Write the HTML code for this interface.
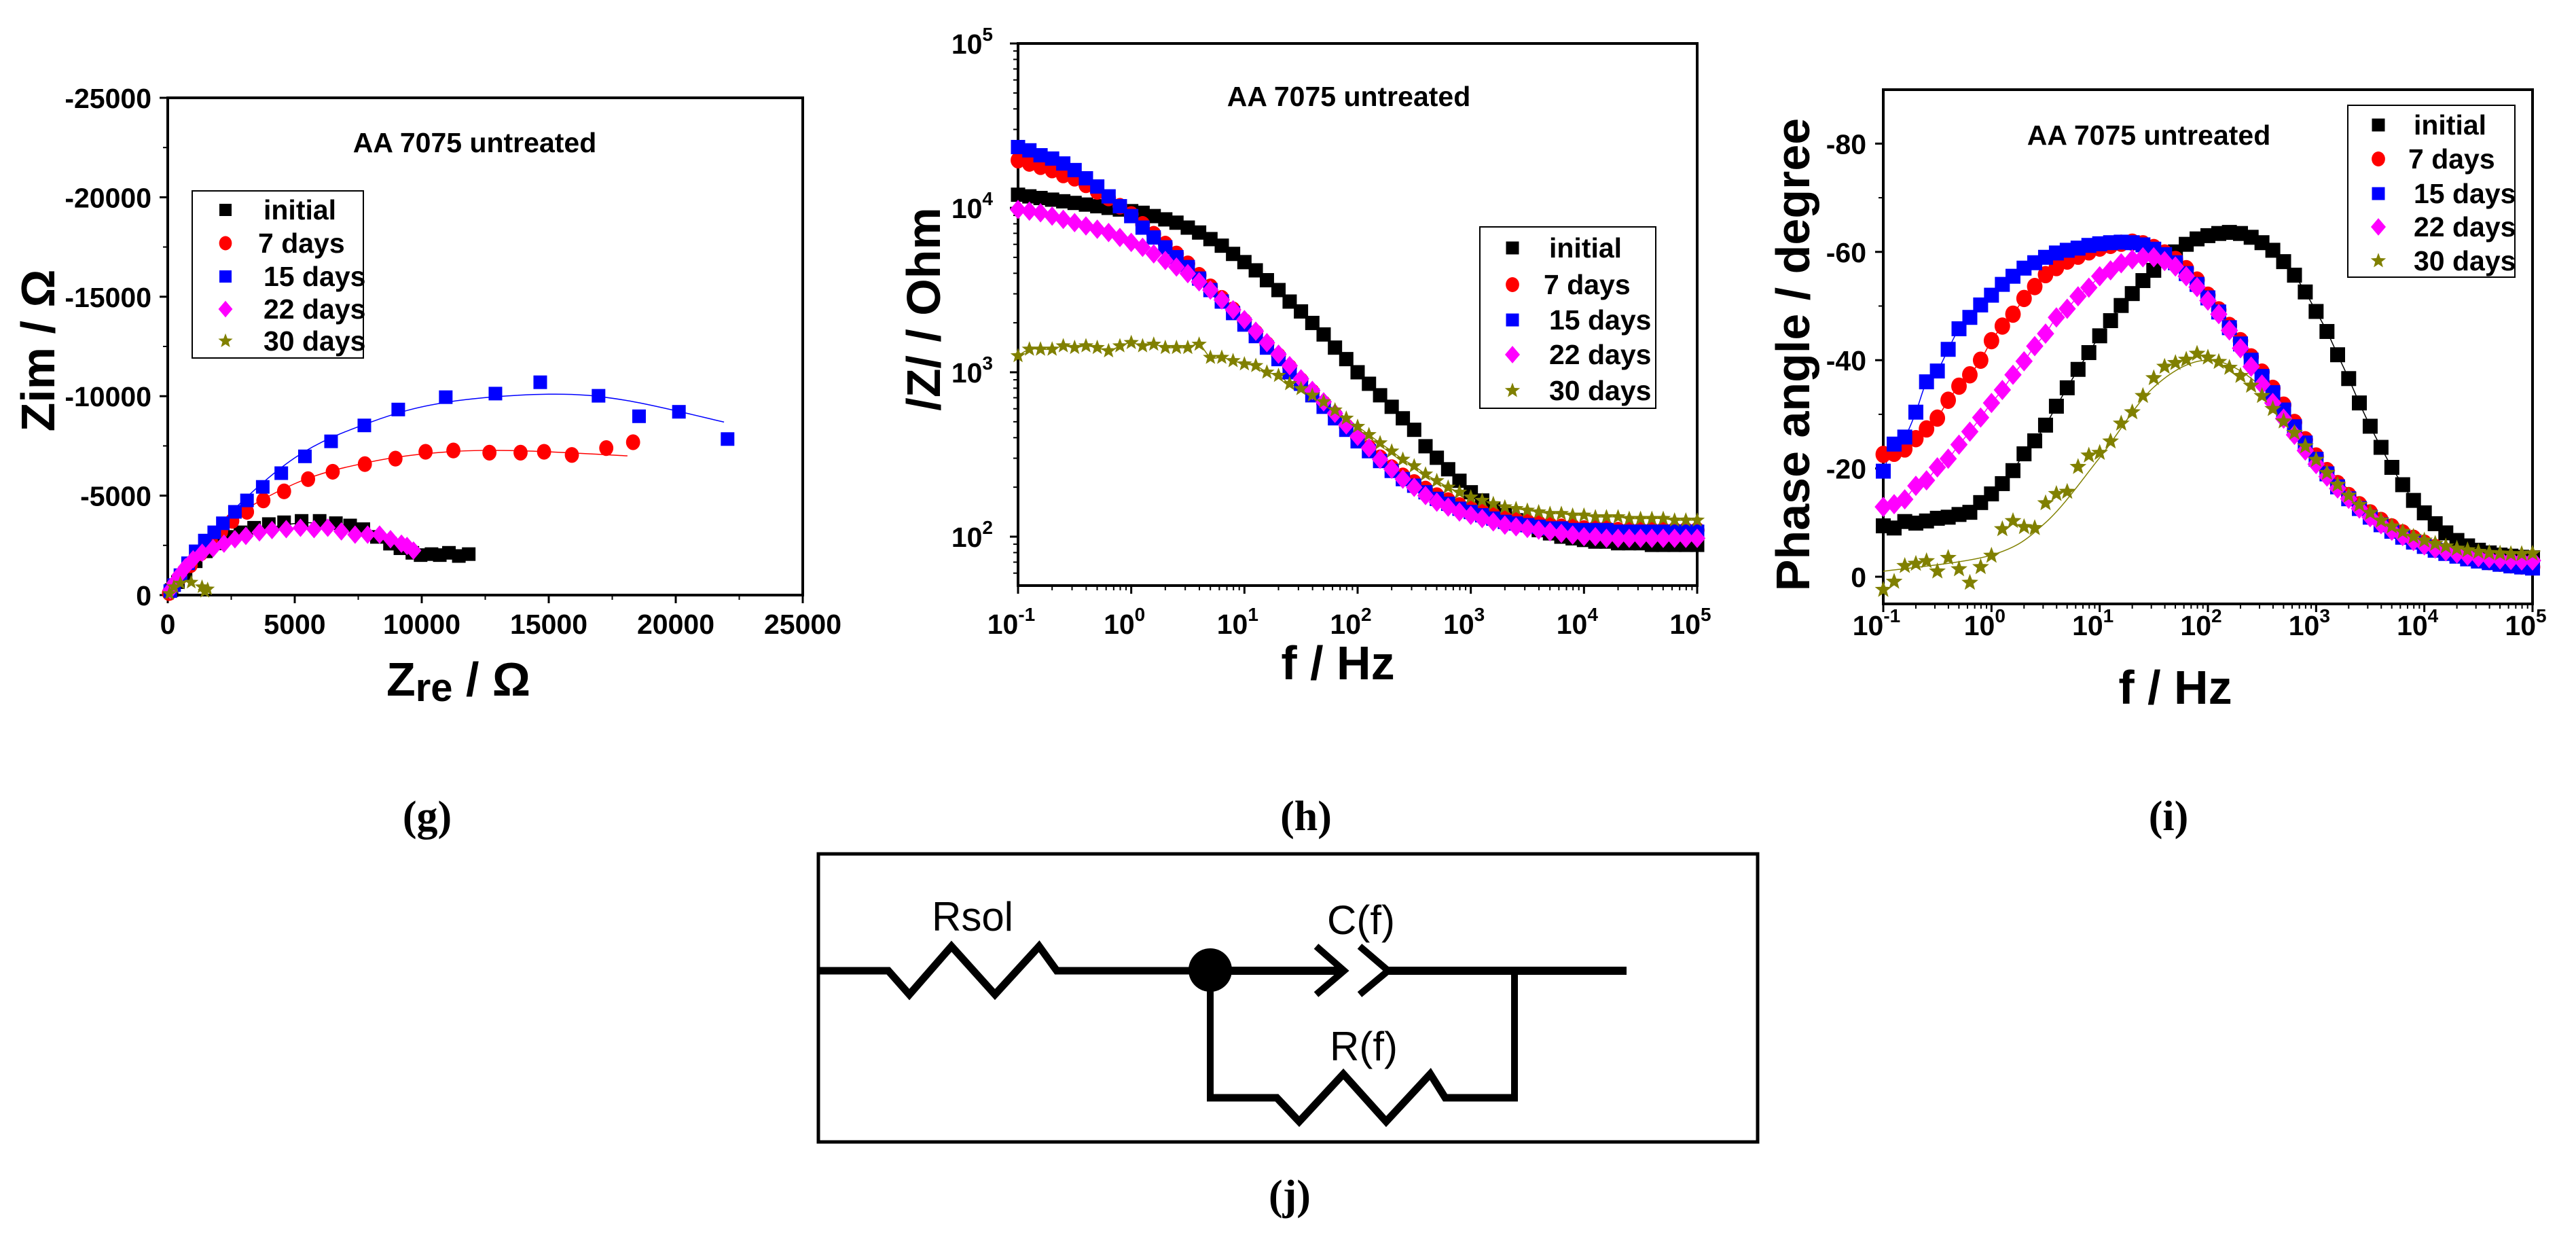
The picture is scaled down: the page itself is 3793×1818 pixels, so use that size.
<!DOCTYPE html>
<html><head><meta charset="utf-8"><style>
html,body{margin:0;padding:0;background:#fff}
svg{display:block}
text{font-family:"Liberation Sans",Arial,sans-serif}
.tk{font-weight:bold;font-size:41px}
.ttl{font-weight:bold;font-size:41px}
.lg{font-weight:bold;font-size:41px}
.ax{font-weight:bold;font-size:70px}
.cap{font-family:"Liberation Serif",serif;font-size:62px;font-weight:bold}
.cl{font-size:60px}
</style></head><body>
<svg id="fig" width="3793" height="1818" viewBox="0 0 3793 1818" xmlns="http://www.w3.org/2000/svg">
<rect width="3793" height="1818" fill="#fff"/>
<g id="pg"></g>
<g id="ph"></g>
<g id="pi"></g>

<text class="cap" x="629" y="1222" text-anchor="middle">(g)</text>
<text class="cap" x="1923" y="1222" text-anchor="middle">(h)</text>
<text class="cap" x="3193" y="1222" text-anchor="middle">(i)</text>
<text class="cap" x="1899" y="1780" text-anchor="middle">(j)</text>

<g>
<rect x="1205" y="1257" width="1383" height="424" fill="none" stroke="#000" stroke-width="5"/>
<polyline points="1205,1429 1308,1429 1339,1464 1401,1393 1465,1464 1530,1393 1556,1429 1782,1429" fill="none" stroke="#000" stroke-width="11" stroke-linejoin="miter"/>
<circle cx="1782" cy="1428" r="32" fill="#000"/>
<line x1="1782" y1="1429" x2="1975" y2="1429" stroke="#000" stroke-width="12"/>
<polyline points="1938,1393 1979,1429 1938,1464" fill="none" stroke="#000" stroke-width="10"/>
<polyline points="2002,1393 2044,1429 2002,1464" fill="none" stroke="#000" stroke-width="10"/>
<line x1="2040" y1="1429" x2="2395" y2="1429" stroke="#000" stroke-width="12"/>
<line x1="1782" y1="1429" x2="1782" y2="1620" stroke="#000" stroke-width="10"/>
<line x1="2230" y1="1429" x2="2230" y2="1620" stroke="#000" stroke-width="10"/>
<polyline points="1777,1616 1880,1616 1913,1651 1978,1581 2041,1651 2106,1581 2128,1616 2235,1616" fill="none" stroke="#000" stroke-width="11"/>
<text class="cl" x="1432" y="1370" text-anchor="middle">Rsol</text>
<text class="cl" x="2004" y="1375" text-anchor="middle">C(f)</text>
<text class="cl" x="2008" y="1561" text-anchor="middle">R(f)</text>
</g>
</svg>
<script>
const seriesNames = ["initial", " 7 days", "15 days", "22 days", "30 days"];
const seriesColors = ["#000000", "#ff0000", "#0000ff", "#ff00ff", "#808000"];
const seriesShapes = ["square", "circle", "square", "diamond", "star"];

// Nyquist data (Zre, -Zim) in Ohm
const nyqInitialRe = [150,400,700,1100,1500,1900,2320,2860,3400,3980,4580,5270,5980,6620,7180,7700,8235,8750,9160,9630,9955,10385,10710,11070,11460,11850];
const nyqInitialIm = [250,650,1100,1700,2200,2600,2925,3155,3385,3570,3660,3730,3730,3615,3500,3315,2925,2585,2355,2125,2010,2060,2010,2125,1965,2060];
const nyq7Re = [50,200,500,900,1300,1700,2100,2540,3120,3765,4580,5525,6495,7760,8965,10150,11245,12665,13890,14815,15910,17265,18320];
const nyq7Im = [100,400,900,1500,2100,2700,3200,3730,4185,4760,5215,5830,6200,6585,6860,7205,7270,7160,7160,7205,7045,7390,7685];
const nyq15Re = [100,250,500,800,1100,1460,1830,2170,2645,3120,3740,4470,5400,6430,7740,9075,10945,12900,14665,16960,18555,20125,22040];
const nyq15Im = [200,500,1000,1600,2200,2740,3155,3610,4185,4760,5440,6130,6975,7730,8530,9330,9950,10130,10700,10020,8990,9215,7845];
const nyq22Re = [100,250,450,700,1000,1355,1785,2215,2645,3075,3610,4105,4665,5225,5760,6300,6835,7375,7870,8340,8770,9200,9420,9675];
const nyq22Im = [250,600,1000,1400,1800,2125,2355,2585,2810,2975,3155,3270,3315,3385,3315,3385,3200,3040,3040,3040,2810,2585,2470,2240];
const nyq30Re = [65,240,495,925,1350,1460,1570];
const nyq30Im = [70,410,595,640,410,180,300];
const fit15Re = [0,2000,5000,8000,11000,15000,18000,21900];
const fit15Im = [0,3500,6900,8700,9700,10100,9800,8700];
const fit7Re = [0,2000,5000,8000,11000,14000,18100];
const fit7Im = [0,3300,5600,6700,7200,7250,7000];
const fitInitRe = [0,2000,4500,6000,8000,9500,10500,12000];
const fitInitIm = [0,2700,3500,3600,3050,2200,2000,1900];

// Bode: frequencies (Hz)
const freq = [0.1,0.126,0.158,0.2,0.251,0.316,0.398,0.501,0.631,0.794,1,1.26,1.58,2,2.51,3.16,3.98,5.01,6.31,7.94,10,12.6,15.8,20,25.1,31.6,39.8,50.1,63.1,79.4,100,126,158,200,251,316,398,501,631,794,1000,1260,1580,2000,2510,3160,3980,5010,6310,7940,10000,12600,15800,20000,25100,31600,39800,50100,63100,79400,100000];
// log10(|Z| / Ohm)
const logZInitial = [4.08,4.07,4.06,4.05,4.04,4.03,4.02,4.01,4.00,3.99,3.98,3.97,3.95,3.93,3.91,3.88,3.85,3.81,3.77,3.72,3.67,3.62,3.56,3.50,3.43,3.37,3.30,3.23,3.15,3.08,3.00,2.93,2.86,2.79,2.72,2.65,2.55,2.48,2.41,2.34,2.27,2.22,2.17,2.13,2.10,2.07,2.04,2.02,2.00,1.99,1.98,1.97,1.97,1.96,1.96,1.96,1.95,1.95,1.95,1.95,1.95];
const logZ7 = [4.29,4.27,4.25,4.23,4.20,4.18,4.14,4.10,4.06,4.01,3.96,3.90,3.84,3.78,3.72,3.66,3.59,3.52,3.45,3.38,3.31,3.24,3.17,3.10,3.03,2.95,2.88,2.81,2.74,2.67,2.60,2.54,2.48,2.42,2.37,2.33,2.29,2.25,2.22,2.19,2.17,2.15,2.13,2.11,2.10,2.09,2.08,2.07,2.06,2.06,2.05,2.05,2.05,2.04,2.04,2.04,2.04,2.04,2.04,2.04,2.04];
const logZ15 = [4.37,4.35,4.32,4.30,4.27,4.23,4.18,4.13,4.07,4.01,3.95,3.88,3.82,3.76,3.70,3.64,3.57,3.50,3.43,3.36,3.29,3.22,3.15,3.08,3.00,2.93,2.86,2.79,2.72,2.65,2.58,2.52,2.46,2.40,2.35,2.31,2.27,2.23,2.20,2.17,2.15,2.13,2.11,2.09,2.08,2.07,2.06,2.05,2.05,2.04,2.04,2.04,2.04,2.03,2.03,2.03,2.03,2.03,2.03,2.03,2.03];
const logZ22 = [3.99,3.98,3.97,3.95,3.93,3.91,3.89,3.87,3.85,3.82,3.79,3.76,3.72,3.68,3.64,3.60,3.55,3.50,3.44,3.38,3.32,3.25,3.18,3.11,3.04,2.96,2.89,2.82,2.75,2.68,2.61,2.54,2.47,2.41,2.35,2.30,2.25,2.21,2.18,2.15,2.13,2.11,2.09,2.07,2.06,2.05,2.04,2.03,2.02,2.01,2.00,2.00,1.99,1.99,1.99,1.99,1.99,1.99,1.99,1.99,1.99];
const logZ30 = [3.10,3.14,3.14,3.14,3.16,3.15,3.16,3.15,3.13,3.16,3.18,3.16,3.17,3.15,3.15,3.15,3.17,3.09,3.09,3.07,3.05,3.04,3.00,2.98,2.93,2.90,2.86,2.82,2.77,2.72,2.67,2.62,2.57,2.52,2.47,2.43,2.38,2.34,2.30,2.27,2.24,2.22,2.20,2.18,2.17,2.16,2.15,2.14,2.14,2.13,2.13,2.12,2.12,2.12,2.11,2.11,2.11,2.11,2.10,2.10,2.10];
// -phase angle (degrees)
const phaseInitial = [9.4,9.0,10.2,9.9,10.3,10.8,11.0,11.5,11.9,13.7,15.3,17.2,19.6,22.7,25.1,28.0,31.5,34.9,38.3,41.4,44.5,47.3,50.1,52.3,54.7,56.6,58.5,60.0,61.4,62.4,63.0,63.4,63.6,63.4,62.7,61.7,60.3,58.2,55.7,52.6,49.0,45.3,41.0,36.6,32.1,27.8,23.9,20.2,17.0,14.1,11.8,9.8,8.1,6.7,5.7,4.9,4.4,4.0,3.8,3.6,3.5];
const phase7 = [22.6,22.8,23.6,25.5,27.3,29.3,32.6,35.2,37.3,40.0,43.6,46.3,48.5,51.4,53.6,55.8,57.1,58.3,59.2,60.0,60.7,61.2,61.6,61.8,61.5,60.8,59.8,58.6,56.9,54.8,52.0,49.3,46.4,43.6,40.6,37.8,34.8,31.7,28.5,25.3,22.3,19.6,17.2,15.0,13.3,11.8,10.4,9.2,8.1,7.1,6.2,5.4,4.7,4.1,3.6,3.2,2.8,2.5,2.2,2.0,1.8];
const phase15 = [19.5,24.5,25.8,30.4,36.0,38.0,42.0,45.8,47.9,50.2,52.0,54.0,55.5,57.0,58.0,59.0,59.8,60.3,60.7,61.2,61.5,61.7,61.8,61.7,61.3,60.5,59.5,58.0,56.0,54.0,51.5,48.9,46.0,43.0,40.0,37.0,34.0,30.8,27.7,24.7,21.7,19.0,16.6,14.4,12.6,11.0,9.6,8.4,7.3,6.4,5.6,4.9,4.3,3.8,3.3,2.9,2.6,2.3,2.0,1.8,1.6];
const phase22 = [12.9,13.4,14.3,16.8,17.8,20.2,21.8,24.4,26.8,29.4,32.1,34.5,37.3,39.8,42.6,44.9,47.9,49.5,51.8,53.4,55.5,56.6,57.9,58.6,59.0,59.0,58.3,57.3,55.5,53.5,51.0,48.5,45.5,42.2,38.8,35.5,32.1,29.2,26.2,23.3,20.8,18.5,16.3,14.4,12.6,11.0,9.7,8.5,7.5,6.6,5.8,5.2,4.7,4.3,3.9,3.6,3.4,3.2,3.1,3.0,3.0];
const phase30 = [-2.4,-0.9,2.0,2.4,2.9,1.0,3.5,1.4,-1.1,1.8,3.9,8.8,10.3,9.2,9.0,13.6,15.3,15.7,20.3,22.4,22.9,25.0,28.3,30.4,33.4,36.7,38.8,39.5,40.1,41.2,40.5,39.7,38.6,37.1,35.3,33.4,31.0,28.7,26.6,24.1,21.6,19.2,17.0,15.0,13.3,11.8,10.4,9.3,8.3,7.4,6.7,6.1,5.6,5.2,4.9,4.6,4.4,4.3,4.2,4.2,4.3];
const fit30Freq = [0.1,1,3.16,10,31.6,100,316,1000,3160,10000,31600,100000];
const fit30Phase = [1,4,10,22,35,40,35,22.5,12.5,6.8,4.5,4];

const xTicksNyq = [0,5000,10000,15000,20000,25000];
const yTicksNyq = [0,5000,10000,15000,20000,25000];
const decadeExp = [-1,0,1,2,3,4,5];
const zExp = [2,3,4,5];
const phaseTicks = [0,20,40,60,80];

const NS = "http://www.w3.org/2000/svg";
function el(parent, tag, attrs){const e=document.createElementNS(NS,tag);for(const k in attrs)e.setAttribute(k,attrs[k]);parent.appendChild(e);return e;}

function starPts(x,y,r){let p=[];for(let i=0;i<10;i++){const a=-Math.PI/2+i*Math.PI/5;const rr=i%2?r*0.42:r;p.push((x+rr*Math.cos(a)).toFixed(1)+","+(y+rr*Math.sin(a)).toFixed(1));}return p.join(" ");}
function marker(parent, shape, x, y, s, color, name){
  let m;
  if(shape==="square"){m=el(parent,"rect",{x:x-s/2,y:y-s/2,width:s,height:s,fill:color});}
  else if(shape==="circle"){m=el(parent,"ellipse",{cx:x,cy:y,rx:s*0.52,ry:s*0.58,fill:color});}
  else if(shape==="diamond"){m=el(parent,"polygon",{points:`${x},${y-s*0.68} ${x+s*0.58},${y} ${x},${y+s*0.68} ${x-s*0.58},${y}`,fill:color});}
  else {m=el(parent,"polygon",{points:starPts(x,y,s*0.62),fill:color});}
  
  
  return m;
}
function txt(parent, cls, x, y, s, anchor){const t=el(parent,"text",{class:cls,x:x,y:y,"text-anchor":anchor||"start"});t.textContent=s;return t;}
function smoothPath(pts){
  let d="M"+pts[0][0]+","+pts[0][1];
  for(let i=0;i<pts.length-1;i++){
    const p0=pts[Math.max(0,i-1)],p1=pts[i],p2=pts[i+1],p3=pts[Math.min(pts.length-1,i+2)];
    const c1=[p1[0]+(p2[0]-p0[0])/6,p1[1]+(p2[1]-p0[1])/6],c2=[p2[0]-(p3[0]-p1[0])/6,p2[1]-(p3[1]-p1[1])/6];
    d+=` C${c1[0].toFixed(1)},${c1[1].toFixed(1)} ${c2[0].toFixed(1)},${c2[1].toFixed(1)} ${p2[0].toFixed(1)},${p2[1].toFixed(1)}`;
  }
  return d;
}
function legend(parent, bx, by, bw, bh, ys, mx, tx, ms){
  const r=el(parent,"rect",{x:bx,y:by,width:bw,height:bh,fill:"#fff",stroke:"#000","stroke-width":2});
  
  
  for(let i=0;i<5;i++){
    marker(parent, seriesShapes[i], mx, ys[i], ms, seriesColors[i], 'legend-marker');
    const t=txt(parent,"lg",tx,ys[i]+14,seriesNames[i].trim());
    if(i===1) t.setAttribute("x", tx-8);
    
    
  }
}
function frame(parent,X0,Y0,X1,Y1){
  const f=el(parent,"rect",{x:X0,y:Y0,width:X1-X0,height:Y1-Y0,fill:"none",stroke:"#000","stroke-width":4});
  
  
}
function tick(parent,x1,y1,x2,y2,w){el(parent,"line",{x1:x1,y1:y1,x2:x2,y2:y2,stroke:"#000","stroke-width":w||3});}

/* ---------- Panel g: Nyquist ---------- */
(function(){
  const g=document.getElementById("pg");
  const X0=247,X1=1182,Y0=144,Y1=876;
  const xs=v=>X0+v/25000*(X1-X0), ys=v=>Y1-v/25000*(Y1-Y0);
  frame(g,X0,Y0,X1,Y1);
  xTicksNyq.forEach(v=>{tick(g,xs(v),Y1,xs(v),Y1+12);
    const t=txt(g,"tk",xs(v),933,String(v),"middle");
    
    });
  for(let v=2500;v<25000;v+=5000){tick(g,xs(v),Y1,xs(v),Y1+7,2);tick(g,X0,ys(v),X0-7,ys(v),2);}
  yTicksNyq.forEach(v=>{tick(g,X0,ys(v),X0-12,ys(v));
    const t=txt(g,"tk",223,ys(v)+15,v===0?"0":"-"+v,"end");
    
    });
  const fits=[[fitInitRe,fitInitIm,"#000"],[fit7Re,fit7Im,"#ff0000"],[fit15Re,fit15Im,"#0000ff"]];
  fits.forEach(f=>{const p=el(g,"path",{d:smoothPath(f[0].map((v,i)=>[xs(v),ys(f[1][i])])),fill:"none",stroke:f[2],"stroke-width":1.5});
    
    });
  const data=[[nyqInitialRe,nyqInitialIm],[nyq7Re,nyq7Im],[nyq15Re,nyq15Im],[nyq22Re,nyq22Im],[nyq30Re,nyq30Im]];
  data.forEach((d,s)=>{const n=Math.min(d[0].length,d[1].length);
    for(let i=0;i<n;i++) marker(g,seriesShapes[s],xs(d[0][i]),ys(d[1][i]),s===4?18:20,seriesColors[s],'nyquist-point');});
  const tt=txt(g,"ttl",699,224,"AA 7075 untreated","middle");
  
  
  legend(g,283,281,252,246,[309,358,407,455,502],332,388,18);
  const xl=el(g,"text",{class:"ax",x:675,y:1024,"text-anchor":"middle"});
  xl.innerHTML='Z<tspan font-size="58" dy="8">re</tspan><tspan dy="-8"> / Ω</tspan>';
  
  
  const yl=el(g,"text",{class:"ax",x:0,y:0,"text-anchor":"middle",transform:"translate(80,516) rotate(-90)"});
  yl.textContent="Zim / Ω";
  
  
})();

function logTickLabels(g, xs, y, exps){
  exps.forEach(e=>{const t=el(g,"text",{class:"tk",x:xs(Math.pow(10,e))-10,y:y,"text-anchor":"middle"});
    t.innerHTML='10<tspan font-size="28" dy="-19">'+e+'</tspan>';
    
    });
}

/* ---------- Panel h: |Z| ---------- */
(function(){
  const g=document.getElementById("ph");
  const X0=1499,X1=2499,Y0=64,Y1=862;
  const xs=f=>X0+(Math.log10(f)+1)/6*(X1-X0);
  const ys=L=>Y0+(5-L)*242;
  frame(g,X0,Y0,X1,Y1);
  decadeExp.forEach(e=>{const x=xs(Math.pow(10,e));tick(g,x,Y1,x,Y1+12);
    if(e<5) for(let m=2;m<10;m++){const xm=xs(m*Math.pow(10,e));tick(g,xm,Y1,xm,Y1+7,2);}});
  logTickLabels(g,xs,933,decadeExp);
  zExp.forEach(e=>{tick(g,X0,ys(e),X0-12,ys(e));
    const t=el(g,"text",{class:"tk",x:1462,y:ys(e)+15,"text-anchor":"end"});
    t.innerHTML='10<tspan font-size="28" dy="-19">'+e+'</tspan>';
    
    });
  for(let e=1;e<5;e++) for(let m=2;m<10;m++){const L=e+Math.log10(m); if(L>1.7) tick(g,X0,ys(L),X0-7,ys(L),2);}
  const data=[logZInitial,logZ7,logZ15,logZ22,logZ30];
  const ln=el(g,"path",{d:smoothPath(freq.map((f,i)=>[xs(f),ys(logZ30[i])])),fill:"none",stroke:"#808000","stroke-width":1.5});
  
  
  data.forEach((d,s)=>{const n=Math.min(d.length,freq.length);
    for(let i=0;i<n;i++) marker(g,seriesShapes[s],xs(freq[i]),ys(d[i]),s===4?19:21,seriesColors[s],'impedance-point');});
  const tt=txt(g,"ttl",1986,156,"AA 7075 untreated","middle");
  
  
  legend(g,2179,334,259,267,[365,419,471,522,575],2227,2281,19);
  const xl=txt(g,"ax",1970,1000,"f / Hz","middle");
  
  
  const yl=el(g,"text",{class:"ax",x:0,y:0,"text-anchor":"middle",transform:"translate(1384,455) rotate(-90)"});
  yl.textContent="/Z/ / Ohm";
  
  
})();

/* ---------- Panel i: phase ---------- */
(function(){
  const g=document.getElementById("pi");
  const X0=2773,X1=3729,Y0=132,Y1=889;
  const xs=f=>X0+(Math.log10(f)+1)/6*(X1-X0);
  const ys=p=>849-p*7.97;
  frame(g,X0,Y0,X1,Y1);
  decadeExp.forEach(e=>{const x=xs(Math.pow(10,e));tick(g,x,Y1,x,Y1+12);
    if(e<5) for(let m=2;m<10;m++){const xm=xs(m*Math.pow(10,e));tick(g,xm,Y1,xm,Y1+7,2);}});
  logTickLabels(g,xs,935,decadeExp);
  phaseTicks.forEach(p=>{tick(g,X0,ys(p),X0-12,ys(p));
    const t=txt(g,"tk",2748,ys(p)+15,p===0?"0":"-"+p,"end");
    
    });
  for(let p=10;p<90;p+=20) tick(g,X0,ys(p),X0-7,ys(p),2);
  const data=[phaseInitial,phase7,phase15,phase22,phase30];
  const lc=["#000","#ff0000","#0000ff","#ff00ff"];
  [0,1,2,3].forEach(s=>{const p=el(g,"path",{d:smoothPath(freq.map((f,i)=>[xs(f),ys(data[s][i])])),fill:"none",stroke:lc[s],"stroke-width":1.5});
    
    });
  const of=el(g,"path",{d:smoothPath(fit30Freq.map((f,i)=>[xs(f),ys(fit30Phase[i])])),fill:"none",stroke:"#808000","stroke-width":1.5});
  
  
  data.forEach((d,s)=>{const n=Math.min(d.length,freq.length);
    for(let i=0;i<n;i++) marker(g,seriesShapes[s],xs(freq[i]),ys(d[i]),s===4?21:22,seriesColors[s],'phase-point');});
  const tt=txt(g,"ttl",3164,213,"AA 7075 untreated","middle");
  
  
  legend(g,3457,155,246,253,[184,234,285,334,384],3502,3554,19);
  const xl=txt(g,"ax",3203,1036,"f / Hz","middle");
  
  
  const yl=el(g,"text",{class:"ax",x:0,y:0,"text-anchor":"middle",transform:"translate(2664,522) rotate(-90)"});
  yl.textContent="Phase angle / degree";
  
  
})();
</script>
</body></html>
